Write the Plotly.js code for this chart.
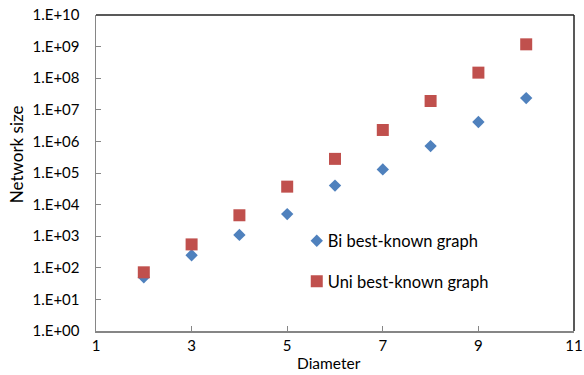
<!DOCTYPE html>
<html>
<head>
<meta charset="utf-8">
<script src="https://cdn.plot.ly/plotly-3.0.1.min.js"></script>
<style>html,body{margin:0;padding:0;background:#fff}#chart{width:584px;height:375px}</style>
</head>
<body>
<div id="chart"></div>
<script>
// Network size versus diameter for the best-known graphs
const diameters = [2, 3, 4, 5, 6, 7, 8, 9, 10];
const biBestKnown = [50, 250, 1100, 5000, 40000, 130000, 710000, 4100000, 23500000];
const uniBestKnown = [72, 550, 4600, 37000, 280000, 2300000, 19000000, 150000000, 1180000000];
const xTickVals = [1, 3, 5, 7, 9, 11];
const yTickVals = [1, 10, 100, 1e3, 1e4, 1e5, 1e6, 1e7, 1e8, 1e9, 1e10];
const yTickText = ['1.E+00', '1.E+01', '1.E+02', '1.E+03', '1.E+04', '1.E+05',
                   '1.E+06', '1.E+07', '1.E+08', '1.E+09', '1.E+10'];

const font = 'Lato, "Open Sans", sans-serif';

const traces = [
  {
    x: diameters, y: biBestKnown, type: 'scatter', mode: 'markers',
    name: 'Bi best-known graph', legendgroup: 'bi',
    marker: {symbol: 'diamond', size: 9.5, color: '#4F81BD'}
  },
  {
    x: diameters, y: uniBestKnown, type: 'scatter', mode: 'markers',
    name: 'Uni best-known graph', legendgroup: 'uni',
    marker: {symbol: 'square', size: 12, color: '#C0504D'}
  }
];

const layout = {
  width: 584, height: 375,
  margin: {l: 96, r: 10, t: 15, b: 44},
  paper_bgcolor: '#fff', plot_bgcolor: '#fff',
  font: {family: font, size: 14, color: '#000'},
  showlegend: true,
  legend: {
    x: 0.42, y: 0.34, xanchor: 'left', yanchor: 'top',
    bgcolor: 'rgba(0,0,0,0)', traceorder: 'grouped', tracegroupgap: 16,
    font: {family: font, size: 16.5, color: '#000'}
  },
  xaxis: {
    range: [1, 11], tickvals: xTickVals,
    showgrid: false, zeroline: false,
    showline: true, linecolor: '#868686', linewidth: 1.5,
    ticks: 'inside', ticklen: 5, tickcolor: '#868686',
    tickfont: {family: font, size: 15}
  },
  yaxis: {
    type: 'log', range: [0, 10], tickvals: yTickVals, ticktext: yTickText,
    showgrid: false, zeroline: false,
    showline: true, linecolor: '#868686', linewidth: 1.5,
    ticks: 'inside', ticklen: 5, tickcolor: '#868686',
    ticklabelstandoff: 12,
    tickfont: {family: font, size: 15}
  },
  annotations: [
    {text: 'Network size', xref: 'paper', yref: 'paper', x: -0.167, y: 0.56,
     textangle: -90, showarrow: false, xanchor: 'center', yanchor: 'middle',
     font: {family: font, size: 17}},
    {text: 'Diameter', xref: 'paper', yref: 'paper', x: 0.487, y: -0.136,
     showarrow: false, xanchor: 'center', yanchor: 'bottom',
     font: {family: font, size: 15.5}}
  ],
  shapes: [
    {type: 'line', xref: 'paper', yref: 'paper', x0: 0, x1: 1, y0: 1, y1: 1,
     line: {color: '#222', width: 1.5}},
    {type: 'line', xref: 'paper', yref: 'paper', x0: 1, x1: 1, y0: 0, y1: 1,
     line: {color: '#222', width: 1.5}}
  ]
};

Plotly.newPlot('chart', traces, layout, {displayModeBar: false, staticPlot: true})
  .then(function () {
    // pull the legend labels closer to their symbols
    document.querySelectorAll('#chart .legendtext').forEach(function (t) {
      t.setAttribute('x', (parseFloat(t.getAttribute('x')) || 0) - 9);
    });
  });
</script>
</body>
</html>
